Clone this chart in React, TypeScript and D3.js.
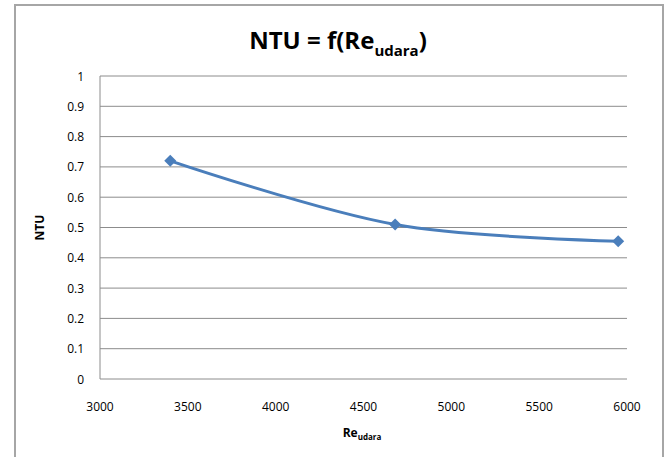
import * as d3 from 'd3'
import React from 'react'

const reynolds = [3400, 4680, 5950]
const ntu = [0.72, 0.51, 0.455]
const xTicks = [3000, 3500, 4000, 4500, 5000, 5500, 6000]
const yTicks = [0, 0.1, 0.2, 0.3, 0.4, 0.5, 0.6, 0.7, 0.8, 0.9, 1]

const W = 670
const H = 457
const margin = { top: 76, right: 43, bottom: 78, left: 100 }
const font = "'Open Sans', 'Noto Sans', sans-serif"

const App = () => {
  const x = d3.scaleLinear().domain([3000, 6000]).range([margin.left, W - margin.right])
  const y = d3.scaleLinear().domain([0, 1]).range([H - margin.bottom, margin.top])

  const pts = reynolds.map((r, i) => [x(r), y(ntu[i])] as [number, number])
  const line = d3.line().curve(d3.curveCatmullRom.alpha(0.5))(pts) || ''
  // square symbol turned 45 deg gives Excel's even diamond
  const diamond = d3.symbol(d3.symbolSquare, 72)() || ''

  return (
    <svg width={W} height={H} style={{ position: 'absolute', left: 0, top: 0 }}>
      <rect x={0} y={0} width={W} height={H} fill="#fff" />
      {/* chart frame */}
      <rect x={15} y={5} width={648} height={H + 10} fill="none" stroke="#a6a6a6" strokeWidth={2} />

      {/* gridlines */}
      {yTicks.map((t) => (
        <line key={t} x1={margin.left} x2={W - margin.right} y1={y(t)} y2={y(t)} stroke="#8c8c8c" strokeWidth={1} />
      ))}
      <line x1={margin.left} x2={margin.left} y1={y(1)} y2={y(0)} stroke="#8c8c8c" />

      {/* y tick labels */}
      {yTicks.map((t) => (
        <text key={'yl' + t} x={84} y={y(t) + 4.5} textAnchor="end" fontFamily={font} fontSize={12} fill="#000">
          {d3.format('')(t)}
        </text>
      ))}
      {/* x tick labels */}
      {xTicks.map((t) => (
        <text key={'xl' + t} x={x(t)} y={411} textAnchor="middle" fontFamily={font} fontSize={12} fill="#000">
          {t}
        </text>
      ))}

      {/* series */}
      <path d={line} fill="none" stroke="#4a7ebb" strokeWidth={3} strokeLinejoin="round" />
      {pts.map(([px, py], i) => (
        <path key={i} d={diamond} transform={`translate(${px},${py}) rotate(45)`} fill="#4a7ebb" />
      ))}

      {/* title */}
      <text x={338} y={49} textAnchor="middle" fontFamily={font} fontSize={24} fontWeight="bold" fill="#000">
        NTU = f(Re
        <tspan fontSize={15} dy={7}>udara</tspan>
        <tspan dy={-7}>)</tspan>
      </text>

      {/* axis titles */}
      <text
        transform={`translate(44,${(y(0) + y(1)) / 2}) rotate(-90)`}
        textAnchor="middle"
        fontFamily={font}
        fontSize={12}
        fontWeight="bold"
      >
        NTU
      </text>
      <text x={362} y={437} textAnchor="middle" fontFamily={font} fontSize={12} fontWeight="bold">
        Re
        <tspan fontSize={8} dy={3}>udara</tspan>
      </text>
    </svg>
  )
}

export default App
